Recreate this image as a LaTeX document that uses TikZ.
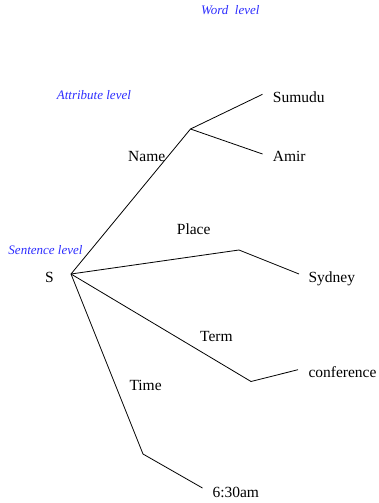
\documentclass[tikz,border=0pt]{standalone}
\usepackage{fontspec}
\setmainfont{Liberation Serif}
\definecolor{levelblue}{RGB}{45,45,255}
\begin{document}
\begin{tikzpicture}[x=1pt,y=-1pt,
  word/.style={anchor=base west,inner sep=0pt,font=\fontsize{15.5}{18}\selectfont},
  levellabel/.style={anchor=base west,inner sep=0pt,text=levelblue,font=\fontsize{13}{15}\selectfont\itshape},
  branch/.style={line width=0.8pt,line join=miter}]
\useasboundingbox (0,0) rectangle (378,503);

% level captions
\node[levellabel] (wl) at (201,14.3) {Word\ \ level};
\node[levellabel] (al) at (56.7,99) {Attribute level};
\node[levellabel] (sl) at (8.3,254) {Sentence level};

% root and attribute labels
\node[word] (s) at (45,282) {S};
\node[word] (name) at (128,161.7) {Name};
\node[word] (place) at (176.7,234) {Place};
\node[word] (term) at (200,341) {Term};
\node[word] (time) at (129.3,390) {Time};

% word labels
\node[word] (sumudu) at (272.7,102.5) {Sumudu};
\node[word] (amir) at (272.7,161.7) {Amir};
\node[word] (sydney) at (308.3,282) {Sydney};
\node[word] (conf) at (308.3,377.7) {conference};
\node[word] (tm) at (212.3,497.7) {6:30am};

% branching points
\coordinate (root) at (71,274);
\coordinate (jname) at (190.5,129);
\coordinate (jplace) at (239,250);
\coordinate (jterm) at (251,381.5);
\coordinate (jtime) at (143,454);

% free ends next to the words
\coordinate (esumudu) at (262.5,94.3);
\coordinate (eamir) at (262.5,154);
\coordinate (esydney) at (299,274);
\coordinate (econf) at (298,369.7);
\coordinate (etm) at (202.5,488);

\draw[branch] (root) -- (jname) -- (esumudu);
\draw[branch] (jname) -- (eamir);
\draw[branch] (root) -- (jplace) -- (esydney);
\draw[branch] (root) -- (jterm) -- (econf);
\draw[branch] (root) -- (jtime) -- (etm);
\end{tikzpicture}
\end{document}
